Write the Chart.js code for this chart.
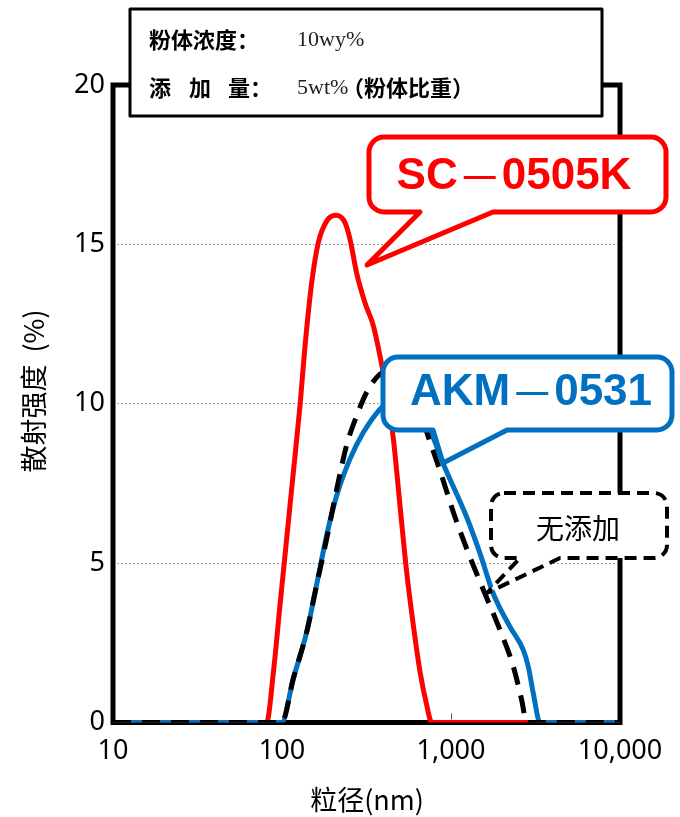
<!DOCTYPE html>
<html><head><meta charset="utf-8">
<script src="https://cdn.jsdelivr.net/npm/chart.js@4/dist/chart.umd.min.js"></script>
<style>html,body{margin:0;padding:0;background:#fff;}#wrap{width:680px;height:817px;position:relative;}</style>
</head><body><div id="wrap"><canvas id="c" width="680" height="817"></canvas></div>
<script>
// ---- data ----
const xTickValues = [10, 100, 1000, 10000];
const xTickLabels = ['10', '100', '1,000', '10,000'];
const yTickValues = [0, 5, 10, 15, 20];

const redSizes = [10, 81, 89, 97.3, 106.6, 116.7, 127.8, 136.9, 149.9, 164, 183.8, 208.7, 236, 252.6, 276.5, 309.7, 347, 380, 416.5, 456, 499, 546.6, 598.6, 655.8, 718, 769, 10000];
const redValues = [0, 0, 1.59, 3.68, 5.77, 7.85, 9.94, 11.82, 13.8, 15.05, 15.73, 15.91, 15.68, 15.16, 14.1, 13.17, 12.45, 11.5, 10.36, 8.9, 6.81, 4.72, 3.05, 1.59, 0.55, 0, 0];

const blueSizes = [10, 99.5, 116.7, 140, 160, 183.7, 210.7, 252.6, 302.7, 397, 480, 580, 680, 769, 901, 1239, 1486, 1780, 2234, 2679, 2867, 3070, 3363, 10000];
const blueValues = [0, 0, 1.38, 2.84, 4.3, 5.87, 7.12, 8.27, 9.1, 9.94, 10.25, 10.1, 9.6, 9.05, 8.11, 6.44, 5.3, 4.04, 3.0, 2.27, 1.75, 0.91, 0, 0];

const blackSizes = [10, 99.5, 116.7, 140, 160, 184, 211, 241, 277, 317, 380, 450, 550, 650, 735, 861, 1057, 1295, 1589, 1950, 2339, 2620, 2806, 10000];
const blackValues = [0, 0, 1.38, 2.84, 4.3, 5.77, 7.33, 8.69, 9.63, 10.36, 10.93, 11.05, 10.6, 9.8, 8.95, 7.9, 6.44, 5.19, 4.04, 2.9, 1.75, 0.7, 0, 0];

const seriesNames = ['无添加', 'AKM－0531', 'SC－0505K'];

// ---- helpers ----
const pts = (xs, ys) => xs.map((x, i) => ({x: x, y: ys[i]}));

function calloutPath(ctx, x0, y0, x1, y1, r, tail) {
  ctx.beginPath();
  ctx.moveTo(x0 + r, y0);
  ctx.lineTo(x1 - r, y0);
  ctx.arcTo(x1, y0, x1, y0 + r, r);
  ctx.lineTo(x1, y1 - r);
  ctx.arcTo(x1, y1, x1 - r, y1, r);
  if (tail) {
    ctx.lineTo(tail[0][0], tail[0][1]);
    ctx.lineTo(tail[1][0], tail[1][1]);
    ctx.lineTo(tail[2][0], tail[2][1]);
  }
  ctx.lineTo(x0 + r, y1);
  ctx.arcTo(x0, y1, x0, y1 - r, r);
  ctx.lineTo(x0, y0 + r);
  ctx.arcTo(x0, y0, x0 + r, y0, r);
  ctx.closePath();
}

function drawSegments(ctx, segs, cx, cy) {
  let total = 0;
  segs.forEach(s => { ctx.font = s.font; s.w = ctx.measureText(s.t).width; total += s.w; });
  let x = cx - total / 2;
  ctx.textBaseline = 'middle';
  ctx.textAlign = 'left';
  segs.forEach(s => { ctx.font = s.font; ctx.fillText(s.t, x, cy); x += s.w; });
}

const framePlugin = {
  id: 'frame',
  beforeDatasetsDraw(chart) {
    const {ctx, chartArea: a} = chart;
    ctx.save();
    ctx.strokeStyle = '#000';
    ctx.lineWidth = 5;
    ctx.strokeRect(a.left, a.top, a.right - a.left, a.bottom - a.top);
    const xs = chart.scales.x;
    ctx.lineWidth = 1;
    ctx.strokeStyle = '#555';
    const tx = Math.round(xs.getPixelForValue(1000)) + 0.5;
    ctx.beginPath(); ctx.moveTo(tx, a.bottom - 3); ctx.lineTo(tx, a.bottom - 9); ctx.stroke();
    ctx.restore();
  }
};

const overlayPlugin = {
  id: 'overlay',
  afterDatasetsDraw(chart) {
    const ctx = chart.ctx;
    ctx.save();
    ctx.lineJoin = 'round';
    // info box
    ctx.fillStyle = '#fff';
    ctx.strokeStyle = '#000';
    ctx.lineWidth = 3;
    ctx.fillRect(130, 9, 472, 107);
    ctx.strokeRect(130, 9, 472, 107);
    ctx.fillStyle = '#000';
    ctx.textBaseline = 'middle';
    ctx.textAlign = 'left';
    const cjkB = 'bold 22px "Noto Sans CJK SC"';
    const serif = '22px "Liberation Serif", "DejaVu Serif", serif';
    ctx.font = cjkB;
    ctx.fillText('粉体浓度：', 149, 40);
    ['添', '加', '量', '：'].forEach((ch, i) => ctx.fillText(ch, [149, 189, 228, 250][i], 88));
    ctx.font = serif;
    ctx.fillStyle = '#222';
    ctx.fillText('10wy%', 297, 40);
    ctx.fillText('5wt%', 297, 88);
    ctx.fillStyle = '#000';
    ctx.font = cjkB;
    ctx.fillText('（粉体比重）', 342, 88);

    // red callout
    ctx.lineWidth = 5;
    ctx.setLineDash([]);
    calloutPath(ctx, 369, 137, 666, 212, 15, [[493, 212], [367, 265], [420, 212]]);
    ctx.fillStyle = '#fff'; ctx.fill();
    ctx.strokeStyle = '#FF0000'; ctx.stroke();
    ctx.fillStyle = '#FF0000';
    drawSegments(ctx, [
      {t: 'SC', font: 'bold 44px "Liberation Sans", Arial, sans-serif'},
      {t: '－', font: '44px "Noto Sans CJK JP"'},
      {t: '0505K', font: 'bold 44px "Liberation Sans", Arial, sans-serif'}
    ], 514, 177);

    // blue callout
    calloutPath(ctx, 383, 357, 672, 430, 15, [[507, 430], [443, 463], [433, 430]]);
    ctx.fillStyle = '#fff'; ctx.fill();
    ctx.strokeStyle = '#0070C0'; ctx.stroke();
    ctx.fillStyle = '#0070C0';
    drawSegments(ctx, [
      {t: 'AKM', font: 'bold 44px "Liberation Sans", Arial, sans-serif'},
      {t: '－', font: '44px "Noto Sans CJK JP"'},
      {t: '0531', font: 'bold 44px "Liberation Sans", Arial, sans-serif'}
    ], 531, 393);

    // black dashed callout
    ctx.lineWidth = 4;
    ctx.setLineDash([12, 7]);
    calloutPath(ctx, 491, 493, 667, 558, 13, [[560, 558], [487, 593], [520, 558]]);
    ctx.fillStyle = '#fff'; ctx.fill();
    ctx.strokeStyle = '#000'; ctx.stroke();
    ctx.setLineDash([]);
    ctx.fillStyle = '#000';
    ctx.font = '28px "Noto Sans CJK SC"';
    ctx.textAlign = 'center';
    ctx.fillText(seriesNames[0], 578, 528);

    // axis titles
    ctx.font = '27px "Noto Sans CJK SC"';
    ctx.fillText('粒径(nm)', 367, 800);
    ctx.translate(34, 391);
    ctx.rotate(-Math.PI / 2);
    ctx.fillText('散射强度  (%)', 0, 0);
    ctx.restore();
  }
};

const tickFont = {family: '"Noto Sans", sans-serif', size: 27};

new Chart(document.getElementById('c'), {
  type: 'line',
  data: {
    datasets: [
      {label: seriesNames[0], data: pts(blackSizes, blackValues), borderColor: '#000', borderWidth: 5, borderDash: [18, 11], pointRadius: 0, cubicInterpolationMode: 'monotone', fill: false, borderCapStyle: 'butt'},
      {label: seriesNames[1], data: pts(blueSizes, blueValues), borderColor: '#0070C0', borderWidth: 5, pointRadius: 0, cubicInterpolationMode: 'monotone', fill: false},
      {label: seriesNames[2], data: pts(redSizes, redValues), borderColor: '#FF0000', borderWidth: 5, pointRadius: 0, cubicInterpolationMode: 'monotone', fill: false}
    ]
  },
  options: {
    responsive: false,
    animation: false,
    devicePixelRatio: 1,
    layout: {padding: {left: 0, right: 60, top: 85, bottom: 0}},
    plugins: {legend: {display: false}, tooltip: {enabled: false}, title: {display: false}},
    scales: {
      x: {
        type: 'logarithmic', min: 10, max: 10000,
        afterBuildTicks: s => { s.ticks = xTickValues.map(v => ({value: v, major: true})); },
        afterFit: s => { s.height = 817 - 722.5; },
        ticks: {
          callback: (v) => { const i = xTickValues.indexOf(v); return i >= 0 ? xTickLabels[i] : ''; },
          font: tickFont, color: '#000', padding: 13, maxRotation: 0, autoSkip: false
        },
        grid: {display: false, drawTicks: false},
        border: {display: false}
      },
      y: {
        min: 0, max: 20,
        afterBuildTicks: s => { s.ticks = yTickValues.map(v => ({value: v})); },
        afterFit: s => { s.width = 113; },
        ticks: {font: tickFont, color: '#000', padding: 8},
        grid: {
          drawTicks: false, lineWidth: 1,
          color: c => (c.tick && c.tick.value > 0 && c.tick.value < 20) ? '#a0a0a0' : 'rgba(0,0,0,0)'
        },
        border: {display: false, dash: [2, 2]}
      }
    }
  },
  plugins: [framePlugin, overlayPlugin]
});
</script>
</body></html>
